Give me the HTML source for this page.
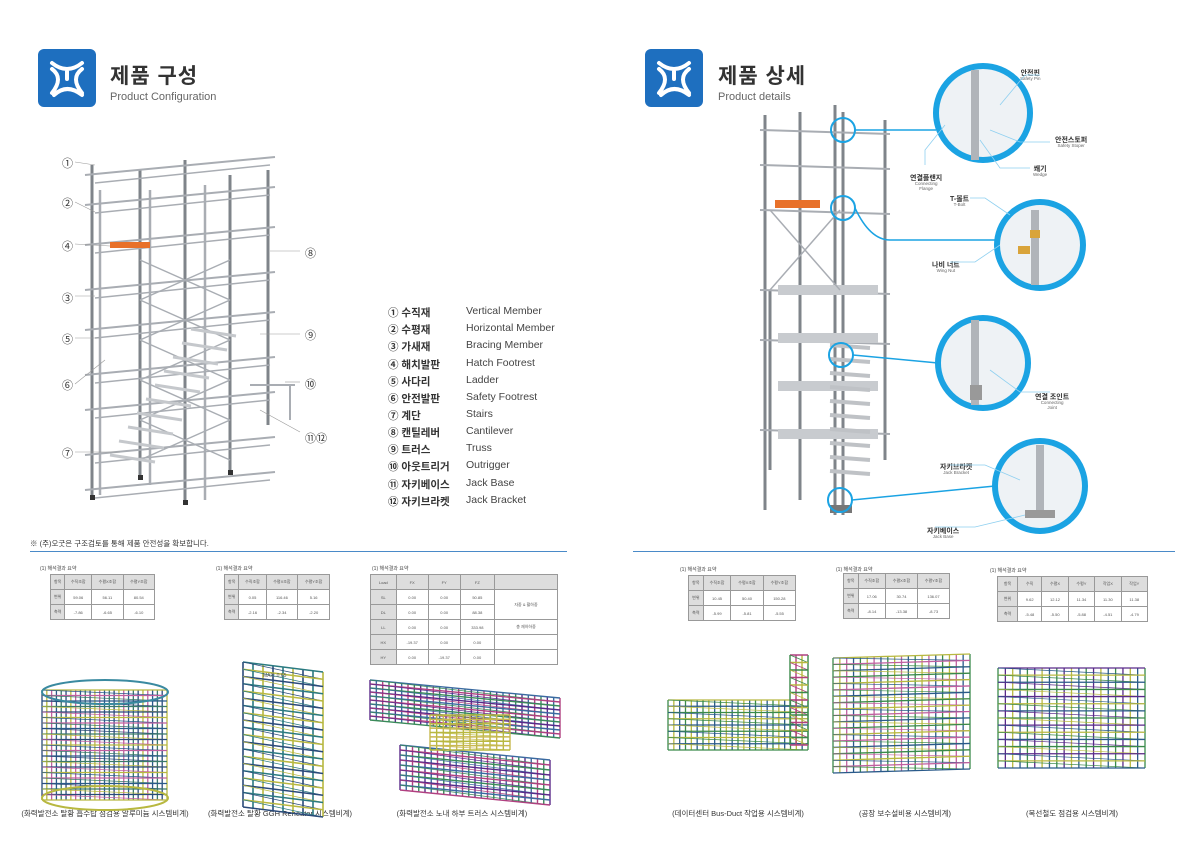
<!DOCTYPE html>
<html><head><meta charset="utf-8">
<style>
body{margin:0;background:#fff;width:1200px;height:841px;overflow:hidden;position:relative;font-family:"Liberation Sans","Noto Sans CJK KR",sans-serif;color:#333}
.abs{position:absolute}
.logo{position:absolute;width:58px;height:58px;background:#1e6fbf;border-radius:6px}
.ttl{position:absolute;font-size:21px;font-weight:bold;color:#333;letter-spacing:1px}
.sub{position:absolute;font-size:11px;color:#666}
.leg{position:absolute;left:388px;font-size:10.5px;color:#333}
.leg span{position:absolute;left:78px;white-space:nowrap;color:#444}
.leg b{font-weight:bold;white-space:nowrap}
.num{position:absolute;font-size:11px;color:#333}
table{border-collapse:collapse;position:absolute;font-size:4px;color:#555}
td{border:1px solid #999;text-align:center;height:14px;padding:0}
tr:first-child td{background:#ddd}
td:first-child{background:#ddd}
.tt{position:absolute;font-size:5px;color:#444}
.cap{position:absolute;font-size:7.5px;color:#333;transform:translateX(-50%);white-space:nowrap}
.lbl{position:absolute;text-align:center;color:#333;line-height:1}
.lbl b{font-size:7px;font-weight:bold;display:block}
.lbl i{font-style:normal;font-size:4.5px;color:#666;display:block}
#sv{z-index:2;pointer-events:none}
</style></head><body>
<svg id="sv" class="abs" style="left:0;top:0" width="1200" height="841"></svg>

<div class="logo" style="left:38px;top:49px"></div>
<div class="ttl" style="left:110px;top:60px">제품 구성</div>
<div class="sub" style="left:110px;top:91px">Product Configuration</div>
<div class="logo" style="left:645px;top:49px"></div>
<div class="ttl" style="left:718px;top:60px">제품 상세</div>
<div class="sub" style="left:718px;top:91px">Product details</div>

<div class="leg" style="top:305px"><b>① 수직재</b><span>Vertical Member</span></div>
<div class="leg" style="top:322px"><b>② 수평재</b><span>Horizontal Member</span></div>
<div class="leg" style="top:339px"><b>③ 가새재</b><span>Bracing Member</span></div>
<div class="leg" style="top:357px"><b>④ 해치발판</b><span>Hatch Footrest</span></div>
<div class="leg" style="top:374px"><b>⑤ 사다리</b><span>Ladder</span></div>
<div class="leg" style="top:391px"><b>⑥ 안전발판</b><span>Safety Footrest</span></div>
<div class="leg" style="top:408px"><b>⑦ 계단</b><span>Stairs</span></div>
<div class="leg" style="top:425px"><b>⑧ 캔틸레버</b><span>Cantilever</span></div>
<div class="leg" style="top:442px"><b>⑨ 트러스</b><span>Truss</span></div>
<div class="leg" style="top:459px"><b>⑩ 아웃트리거</b><span>Outrigger</span></div>
<div class="leg" style="top:477px"><b>⑪ 자키베이스</b><span>Jack Base</span></div>
<div class="leg" style="top:494px"><b>⑫ 자키브라켓</b><span>Jack Bracket</span></div>

<div class="num" style="left:62px;top:155px">①</div>
<div class="num" style="left:62px;top:195px">②</div>
<div class="num" style="left:62px;top:238px">④</div>
<div class="num" style="left:62px;top:290px">③</div>
<div class="num" style="left:62px;top:331px">⑤</div>
<div class="num" style="left:62px;top:377px">⑥</div>
<div class="num" style="left:62px;top:445px">⑦</div>
<div class="num" style="left:305px;top:245px">⑧</div>
<div class="num" style="left:305px;top:327px">⑨</div>
<div class="num" style="left:305px;top:376px">⑩</div>
<div class="num" style="left:305px;top:430px">⑪⑫</div>

<div class="abs" style="left:30px;top:538px;font-size:7.5px">※ (주)오굿은 구조검토를 통해 제품 안전성을 확보합니다.</div>
<div class="abs" style="left:30px;top:551px;width:537px;height:1px;background:#4a8ac8"></div>
<div class="abs" style="left:633px;top:551px;width:542px;height:1px;background:#4a8ac8"></div>

<div class="tt" style="left:40px;top:565px">(1) 해석결과 요약</div>
<table style="left:50px;top:574px;width:105px"><tr><td>항목</td><td>수직조합</td><td>수평X조합</td><td>수평Y조합</td></tr><tr><td>변위</td><td>59.06</td><td>56.11</td><td>80.54</td></tr><tr><td>축력</td><td>-7.86</td><td>-6.65</td><td>-6.10</td></tr></table>
<div class="tt" style="left:216px;top:565px">(1) 해석결과 요약</div>
<table style="left:224px;top:574px;width:106px"><tr><td>항목</td><td>수직조합</td><td>수평X조합</td><td>수평Y조합</td></tr><tr><td>변위</td><td>0.05</td><td>116.46</td><td>5.16</td></tr><tr><td>축력</td><td>-2.16</td><td>-2.34</td><td>-2.20</td></tr></table>
<div class="tt" style="left:372px;top:565px">(1) 해석결과 요약</div>
<table style="left:370px;top:574px;width:188px"><tr><td>Load</td><td>FX</td><td>FY</td><td>FZ</td><td></td></tr><tr><td>SL</td><td>0.00</td><td>0.00</td><td>50.85</td><td rowspan="2">자중 & 활하중</td></tr><tr><td>DL</td><td>0.00</td><td>0.00</td><td>88.38</td></tr><tr><td>LL</td><td>0.00</td><td>0.00</td><td>333.98</td><td>총 재하하중</td></tr><tr><td>HX</td><td>-19.37</td><td>0.00</td><td>0.00</td><td></td></tr><tr><td>HY</td><td>0.00</td><td>-19.37</td><td>0.00</td><td></td></tr></table>

<div class="tt" style="left:680px;top:566px">(1) 해석결과 요약</div>
<table style="left:688px;top:575px;width:108px"><tr><td>항목</td><td>수직조합</td><td>수평X조합</td><td>수평Y조합</td></tr><tr><td>변위</td><td>10.45</td><td>50.40</td><td>150.28</td></tr><tr><td>축력</td><td>-5.99</td><td>-5.81</td><td>-5.55</td></tr></table>
<div class="tt" style="left:836px;top:566px">(1) 해석결과 요약</div>
<table style="left:843px;top:573px;width:107px"><tr><td>항목</td><td>수직조합</td><td>수평X조합</td><td>수평Y조합</td></tr><tr><td>변위</td><td>17.06</td><td>30.74</td><td>136.07</td></tr><tr><td>축력</td><td>-8.14</td><td>-13.38</td><td>-8.73</td></tr></table>
<div class="tt" style="left:990px;top:567px">(1) 해석결과 요약</div>
<table style="left:997px;top:576px;width:151px"><tr><td>항목</td><td>수직</td><td>수평X</td><td>수평Y</td><td>작업X</td><td>작업Y</td></tr><tr><td>변위</td><td>9.62</td><td>12.12</td><td>11.34</td><td>11.30</td><td>11.38</td></tr><tr><td>축력</td><td>-5.48</td><td>-5.50</td><td>-5.88</td><td>-4.51</td><td>-4.79</td></tr></table>

<div class="cap" style="left:105px;top:808px">(화력발전소 탈황 흡수탑 점검용 알루미늄 시스템비계)</div>
<div class="cap" style="left:280px;top:808px">(화력발전소 탈황 GGH Reheater 시스템비계)</div>
<div class="cap" style="left:462px;top:808px">(화력발전소 노내 하부 트러스 시스템비계)</div>
<div class="cap" style="left:738px;top:808px">(데이터센터 Bus-Duct 작업용 시스템비계)</div>
<div class="cap" style="left:905px;top:808px">(공장 보수설비용 시스템비계)</div>
<div class="cap" style="left:1072px;top:808px">(복선철도 점검용 시스템비계)</div>

<div class="lbl" style="left:1020px;top:70px"><b>안전핀</b><i>Safety Pin</i></div>
<div class="lbl" style="left:1055px;top:137px"><b>안전스토퍼</b><i>Safety Stoper</i></div>
<div class="lbl" style="left:1033px;top:166px"><b>쐐기</b><i>Wedge</i></div>
<div class="lbl" style="left:910px;top:175px"><b>연결플랜지</b><i>Connecting<br>Flange</i></div>
<div class="lbl" style="left:950px;top:196px"><b>T-볼트</b><i>T-Bolt</i></div>
<div class="lbl" style="left:932px;top:262px"><b>나비 너트</b><i>Wing Nut</i></div>
<div class="lbl" style="left:1035px;top:394px"><b>연결 조인트</b><i>Connecting<br>Joint</i></div>
<div class="lbl" style="left:940px;top:464px"><b>자키브라켓</b><i>Jack Bracket</i></div>
<div class="lbl" style="left:927px;top:528px"><b>자키베이스</b><i>Jack Base</i></div>

<script>
const sv=document.getElementById('sv');let h='';
function L(x1,y1,x2,y2,c,w){h+=`<line x1="${x1}" y1="${y1}" x2="${x2}" y2="${y2}" stroke="${c}" stroke-width="${w||1}"/>`}
function R(x,y,w,hh,c){h+=`<rect x="${x}" y="${y}" width="${w}" height="${hh}" fill="${c}"/>`}
[[38,49],[645,49]].forEach(([x,y])=>{h+=`<path d="M${x+14} ${y+14} Q${x+29} ${y+26} ${x+44} ${y+14} M${x+29} ${y+22} L${x+29} ${y+30} M${x+14} ${y+44} Q${x+26} ${y+29} ${x+14} ${y+20} M${x+44} ${y+44} Q${x+32} ${y+29} ${x+44} ${y+20} M${x+16} ${y+46} Q${x+29} ${y+34} ${x+44} ${y+46}" stroke="#fff" stroke-width="4" fill="none" stroke-linecap="round"/>`});
const g='#a9adb3',gd='#7f848a';
let cols=[[92,165,495],[140,170,475],[185,160,500],[230,175,470],[268,170,425]];
cols.forEach(c=>{L(c[0],c[1],c[0],c[2],gd,3)});
[[100,190,495],[150,190,485],[205,185,500]].forEach(c=>L(c[0],c[1],c[0],c[2],g,2.5));
[175,205,245,290,330,375,410,455,490].forEach((y,i)=>{L(85,y,275,y-18,g,2);L(95,y+8,270,y-10,g,1.5)});
for(let i=0;i<5;i++){L(140,260+i*40,230,300+i*40,g,1.5);L(140,300+i*40,230,260+i*40,g,1.5)}
R(110,242,40,6,'#e8712a');
for(let i=0;i<10;i++){L(110+i*9,455-i*14,155+i*9,462-i*14,'#c5c8cc',3)}
L(250,385,295,385,g,2);L(290,385,290,420,g,2);
[[92,495],[140,475],[185,500],[230,470]].forEach(p=>R(p[0]-2,p[1],5,5,'#333'));
[[75,162,95,165],[75,202,95,212],[75,244,110,246],[75,296,95,296],[75,338,100,338],[75,384,105,360],[75,452,120,452]].forEach(a=>L(...a,'#999',0.6));
[[300,251,270,251],[300,334,260,334],[300,382,285,382],[300,432,260,410]].forEach(a=>L(...a,'#999',0.6));
[[765,115,510],[800,112,500],[843,112,515],[885,120,460],[835,105,515],[770,290,470]].forEach(c=>L(c[0],c[1],c[0],c[2],gd,3));
[130,165,210,290,340,430].forEach(y=>{L(760,y,890,y+4,g,2)});
R(775,200,45,8,'#e8712a');
for(let i=0;i<4;i++){R(778,285+i*48,100,10,'#c8cbcf')}
for(let i=0;i<10;i++){L(830,345+i*14,870,348+i*14,'#bfc2c6',4)}
L(770,210,840,290,g,1.5);L(840,210,770,290,g,1.5);
R(830,505,22,8,'#777');
const cy='#1ba3e3';
function C(x,y,r,w){h+=`<circle cx="${x}" cy="${y}" r="${r}" fill="${w>3?'#eef2f5':'none'}" stroke="${cy}" stroke-width="${w}"/>`}
C(983,113,47,6);C(1040,245,43,6);C(983,363,45,6);C(1040,486,45,6);
C(843,130,12,2);C(843,208,12,2);C(841,355,12,2);C(840,500,12,2);
h+=`<path d="M855 130 H936 M855 208 Q870 240 890 240 H997 M853 355 L938 363 M852 500 L995 486" stroke="${cy}" stroke-width="1.5" fill="none"/>`;
[[975,70,975,160],[1035,210,1035,285],[975,320,975,405],[1040,445,1040,510]].forEach(a=>L(...a,'#b0b4b9',8));
R(970,385,12,15,'#999');R(1025,510,30,8,'#999');R(1030,230,10,8,'#d9a43a');R(1018,246,12,8,'#d9a43a');
['M1040 75 H1025 L1000 105','M1050 142 H1020 L990 130','M1030 168 H1000 L980 140','M925 165 V150 L945 125','M970 198 H985 L1010 215','M950 262 H975 L1000 245','M1050 392 H1020 L990 370','M950 465 H985 L1020 480','M935 527 H975 L1025 515'].forEach(d=>h+=`<path d="${d}" stroke="#8fd0f0" stroke-width="0.8" fill="none"/>`);
function lat(x,y,w,hh,nx,ny,skew,cs,lw){lw=lw||1.4;for(let i=0;i<=nx;i++){let xx=x+i*w/nx;L(xx,y+skew*i/nx,xx,y+hh+skew*i/nx,cs[i%cs.length],lw)}for(let j=0;j<=ny;j++){let yy=y+j*hh/ny;L(x,yy,x+w,yy+skew,cs[(j+1)%cs.length],lw);if(j<ny)L(x,yy,x+w,yy+hh/ny+skew,cs[(j+3)%cs.length],0.7)}}
lat(42,690,125,110,26,20,0,['#2a4a7a','#b8b840','#c060a0','#2a5a8a','#3a7a6a'],1.3);
h+=`<ellipse cx="105" cy="692" rx="63" ry="12" fill="none" stroke="#3a8aa0" stroke-width="2"/><ellipse cx="105" cy="798" rx="63" ry="12" fill="none" stroke="#b8b840" stroke-width="2"/>`;
lat(243,662,80,145,8,20,10,['#2a4a7a','#2a7a80','#b8b840'],1.6);
h+=`<text x="263" y="677" font-size="5" fill="#555">MAX: 0.65</text>`;
lat(370,680,190,40,30,10,18,['#5a2a8a','#3a6aa0','#b04080','#3a8a5a'],1.4);
lat(400,745,150,45,24,9,15,['#5a2a8a','#3a6aa0','#b04080','#3a8a5a'],1.4);
lat(430,715,80,35,12,8,0,['#c8b850','#b8b840']);
lat(668,700,140,50,24,8,0,['#3a8a4a','#b8b840','#2a5a8a'],1.3);
lat(790,655,18,90,3,12,0,['#3a8a4a','#b04080','#b8b840']);
lat(833,658,137,115,20,18,-4,['#3a8a4a','#b8b840','#c060a0','#2a5a8a'],1.3);
lat(998,668,147,100,20,14,0,['#3a8a4a','#5a2a8a','#b8b840','#2a5a8a'],1.3);
sv.innerHTML=h;
</script>
</body></html>
